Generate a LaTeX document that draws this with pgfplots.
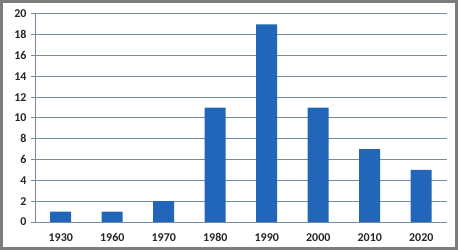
\documentclass[border=0pt]{standalone}
\usepackage{pgfplots}
\pgfplotsset{compat=1.18}
\usepackage{fontspec}
\setmainfont{Carlito}
\definecolor{barblue}{RGB}{33,102,184}
\definecolor{gridc}{RGB}{115,138,160}
\definecolor{framec}{RGB}{125,125,125}
\begin{document}
\begin{tikzpicture}
\useasboundingbox (0,0) rectangle (458bp,250bp);
\fill[white] (0,0) rectangle (458bp,250bp);
\draw[framec, line width=3bp] (1.5bp,1.5bp) rectangle (456.5bp,248.5bp);
\begin{axis}[
  at={(35bp,28bp)}, anchor=south west,
  scale only axis, width=412bp, height=208bp,
  xmin=-0.5, xmax=7.5, ymin=0, ymax=20,
  axis x line=bottom, axis y line=left,
  axis line style={gridc, line width=1bp, -},
  ytick={0,2,...,20},
  ymajorgrids, grid style={gridc, line width=1bp},
  xtick={0,...,7},
  xticklabels={1930,1960,1970,1980,1990,2000,2010,2020},
  major x tick style={draw=none},
  extra x ticks={0.5,1.5,...,7.5},
  extra x tick labels={},
  extra x tick style={major tick length=4bp, tick style={gridc, line width=1bp}, tick align=outside, grid=none},
  tick align=outside, major tick length=4bp,
  y tick style={gridc, line width=1bp},
  ticklabel style={font=\fontsize{12}{14}\selectfont\bfseries, text=black!85},
  yticklabel style={xshift=-1bp},
  xticklabel style={yshift=-4bp, text height=7.5bp, text depth=0pt},
  /pgf/number format/assume math mode=true,
  ybar, bar width=21bp, bar shift=0pt,
]
\addplot[fill=barblue, draw=none] coordinates {
(0,1) (1,1) (2,2) (3,11) (4,19) (5,11) (6,7) (7,5)};
\end{axis}
\end{tikzpicture}
\end{document}
